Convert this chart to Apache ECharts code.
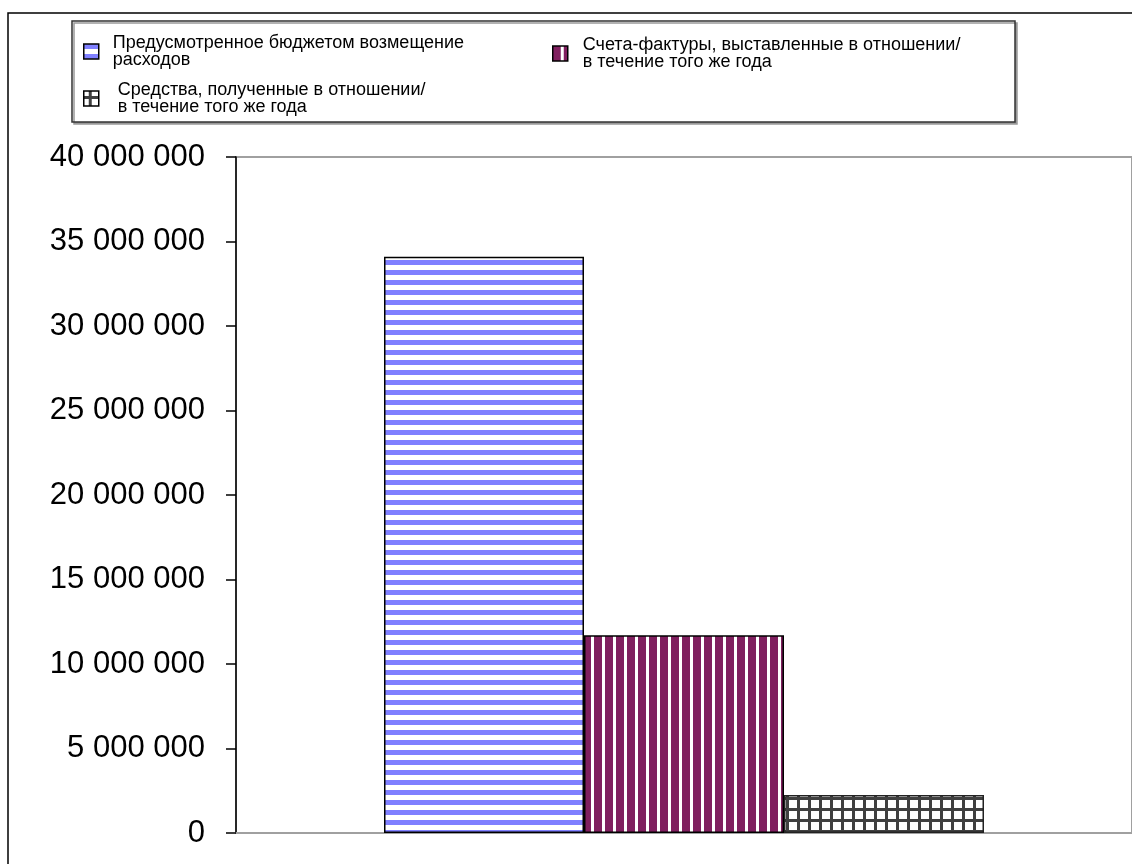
<!DOCTYPE html>
<html>
<head>
<meta charset="utf-8">
<script src="https://cdn.jsdelivr.net/npm/echarts@6/dist/echarts.min.js"></script>
<style>html,body{margin:0;padding:0;background:#fff}#c{width:1132px;height:864px}</style>
</head>
<body>
<div id="c"></div>
<script>
var categories = [''];
var seriesNames = ['budget', 'invoices', 'received'];
var legendLabels = [
  'Предусмотренное бюджетом возмещение\nрасходов',
  'Счета-фактуры, выставленные в отношении/\nв течение того же года',
  'Средства, полученные в отношении/\nв течение того же года'
];
var budgetValues = [34100000];
var invoiceValues = [11700000];
var receivedValues = [2250000];
var yTicks = { min: 0, max: 40000000, interval: 5000000 };

function makePattern(kind) {
  var c = document.createElement('canvas');
  var ctx = c.getContext('2d');
  if (kind === 'h') {
    c.width = 10; c.height = 10;
    ctx.fillStyle = '#ffffff'; ctx.fillRect(0, 0, 10, 10);
    ctx.fillStyle = '#8080ff'; ctx.fillRect(0, 0, 10, 5);
  } else if (kind === 'v') {
    c.width = 11; c.height = 11;
    ctx.fillStyle = '#ffffff'; ctx.fillRect(0, 0, 11, 11);
    ctx.fillStyle = '#801f5f'; ctx.fillRect(0, 0, 8, 11);
  } else {
    c.width = 11; c.height = 11;
    ctx.fillStyle = '#ffffff'; ctx.fillRect(0, 0, 11, 11);
    ctx.fillStyle = '#404040';
    ctx.fillRect(5, 0, 3, 11);
    ctx.fillRect(0, 5, 11, 3);
  }
  return { image: c, repeat: 'repeat' };
}
var patH = makePattern('h'), patV = makePattern('v'), patG = makePattern('g');

function fmt(v) {
  return String(v).replace(/\B(?=(\d{3})+(?!\d))/g, ' ');
}

var font = "'Liberation Sans', Arial, sans-serif";
function legendFor(idx, left, top, padLeft, pat) {
  return {
    data: [{ name: seriesNames[idx], itemStyle: { color: pat, borderColor: '#000', borderWidth: 1.5 } }],
    left: left, top: top, padding: 0, orient: 'horizontal',
    icon: 'rect', itemWidth: 15, itemHeight: 15,
    selectedMode: false,
    formatter: function () { return legendLabels[idx]; },
    textStyle: { fontFamily: font, fontSize: 18, color: '#000', lineHeight: 17, padding: [0, 0, 0, padLeft] }
  };
}

var chart = echarts.init(document.getElementById('c'), null, { renderer: 'canvas' });
chart.setOption({
  animation: false,
  backgroundColor: '#fff',
  graphic: [
    { type: 'rect', z: -10, shape: { x: 8, y: 13, width: 1300, height: 1000 },
      style: { fill: 'none', stroke: '#000', lineWidth: 1.5 } },
    { type: 'rect', z: -5, shape: { x: 72, y: 21, width: 943, height: 101 },
      style: { fill: '#fff', stroke: '#333', lineWidth: 1.5, shadowColor: '#999', shadowOffsetX: 2, shadowOffsetY: 2, shadowBlur: 0 } }
  ],
  legend: [
    legendFor(0, 83, 34, 9, patH),
    legendFor(1, 552, 36, 10, patV),
    legendFor(2, 83, 81, 14, patG)
  ],
  grid: { left: 236, top: 157, width: 900, bottom: 31, show: true, borderColor: '#a0a0a0', borderWidth: 2, backgroundColor: 'transparent' },
  xAxis: {
    type: 'category', data: categories,
    axisLine: { lineStyle: { color: '#a0a0a0', width: 2 } },
    axisTick: { show: false }, axisLabel: { show: false }, splitLine: { show: false }
  },
  yAxis: {
    type: 'value', min: yTicks.min, max: yTicks.max, interval: yTicks.interval,
    axisLine: { show: true, lineStyle: { color: '#000', width: 1.5 } },
    axisTick: { show: true, length: 10, lineStyle: { color: '#000', width: 1.5 } },
    splitLine: { show: false },
    axisLabel: { formatter: fmt, fontSize: 31, fontFamily: font, color: '#000', margin: 31 }
  },
  series: [
    { name: seriesNames[0], type: 'bar', data: budgetValues, barGap: '0%', barWidth: 200,
      itemStyle: { color: patH, borderColor: '#000', borderWidth: 1.5 } },
    { name: seriesNames[1], type: 'bar', data: invoiceValues, barGap: '0%', barWidth: 200,
      itemStyle: { color: patV, borderColor: '#000', borderWidth: 1.5 } },
    { name: seriesNames[2], type: 'bar', data: receivedValues, barGap: '0%', barWidth: 200,
      itemStyle: { color: patG, borderColor: '#222', borderWidth: 1.5 } }
  ]
});
</script>
</body>
</html>
